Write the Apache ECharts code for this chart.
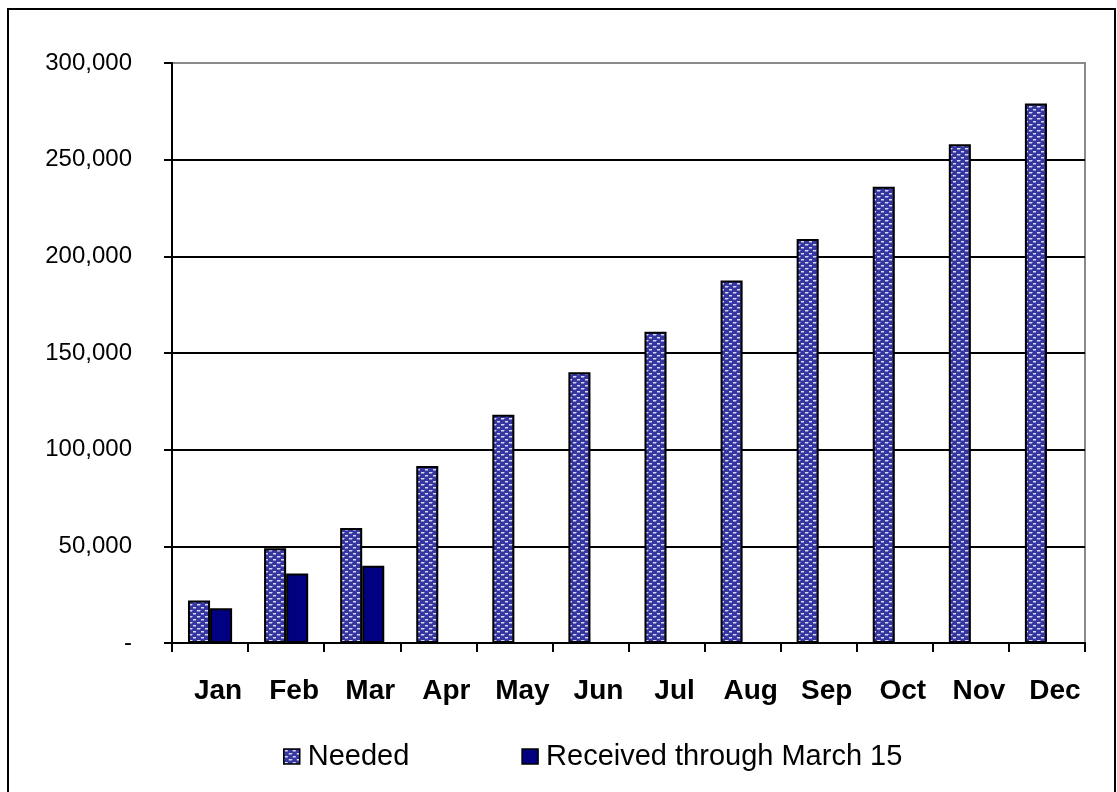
<!DOCTYPE html>
<html>
<head>
<meta charset="utf-8">
<script src="https://cdn.jsdelivr.net/npm/echarts@6/dist/echarts.min.js"></script>
<style>
html,body{margin:0;padding:0;background:#fff;}
#chart{width:1117px;height:792px;}
</style>
</head>
<body>
<div id="chart"></div>
<script>
var categories = ['Jan','Feb','Mar','Apr','May','Jun','Jul','Aug','Sep','Oct','Nov','Dec'];
var needed = [22000, 49000, 59500, 91500, 118000, 140000, 161000, 187500, 209000, 236000, 258000, 279000];
var received = [18000, 36000, 40000, null, null, null, null, null, null, null, null, null];
var yTicks = { min: 0, max: 300000, interval: 50000 };
var seriesNames = ['Needed', 'Received through March 15'];

function makePattern() {
  var c = document.createElement('canvas');
  c.width = 8; c.height = 6;
  var g = c.getContext('2d');
  g.fillStyle = '#3636a0';
  g.fillRect(0, 0, 8, 6);
  g.fillStyle = '#d8d8f4';
  g.fillRect(1, 1, 3, 1);
  g.fillRect(5, 4, 3, 1);
  g.fillStyle = '#8484c8';
  g.fillRect(0, 4, 1, 1);
  g.fillRect(1, 2, 3, 1);
  g.fillRect(5, 5, 3, 1);
  return c;
}
var pat = { image: makePattern(), repeat: 'repeat' };

var chart = echarts.init(document.getElementById('chart'));
var font = 'Liberation Sans, Arial, sans-serif';
chart.setOption({
  animation: false,
  backgroundColor: '#fff',
  textStyle: { fontFamily: font },
  grid: { left: 172, top: 63, right: 32, bottom: 149, show: true, borderColor: '#8a8a8a', borderWidth: 2, backgroundColor: 'transparent' },
  graphic: [
    { type: 'rect', shape: { x: 8, y: 9, width: 1107, height: 800 }, style: { fill: 'none', stroke: '#000', lineWidth: 2 }, z: -1 }
  ],
  legend: {
    left: 278, top: 737,
    itemWidth: 16, itemHeight: 15, itemGap: 112,
    textStyle: { fontSize: 29, color: '#000', fontFamily: font, padding: [0, 0, 0, 3] },
    data: [
      { name: seriesNames[0], icon: 'rect', itemStyle: { color: pat, borderColor: '#000', borderWidth: 1.5 } },
      { name: seriesNames[1], icon: 'rect', itemStyle: { color: '#000080', borderColor: '#000', borderWidth: 1.5 } }
    ]
  },
  xAxis: {
    type: 'category',
    data: categories,
    axisLine: { lineStyle: { color: '#000', width: 2 } },
    axisTick: { show: true, length: 9, lineStyle: { color: '#000', width: 2 } },
    axisLabel: { color: '#000', fontSize: 28, fontWeight: 'bold', margin: 34, fontFamily: font, padding: [0, 0, 0, 16] }
  },
  yAxis: {
    type: 'value',
    min: yTicks.min, max: yTicks.max, interval: yTicks.interval,
    axisLine: { show: true, lineStyle: { color: '#000', width: 2 } },
    axisTick: { show: true, length: 8, lineStyle: { color: '#000', width: 2 } },
    axisLabel: {
      color: '#000', fontSize: 24, margin: 40, fontFamily: font,
      formatter: function (v) { return v === 0 ? '-' : v.toLocaleString('en-US'); }
    },
    splitLine: { show: true, showMaxLine: false, lineStyle: { color: '#000', width: 2 } }
  },
  series: [
    {
      name: seriesNames[0], type: 'bar', data: needed,
      barWidth: '29%', barGap: '0%',
      itemStyle: { color: pat, borderColor: '#000', borderWidth: 2 }
    },
    {
      name: seriesNames[1], type: 'bar', data: received,
      barWidth: '29%', barGap: '0%',
      itemStyle: { color: '#000080', borderColor: '#000', borderWidth: 2 }
    }
  ]
});
</script>
</body>
</html>
